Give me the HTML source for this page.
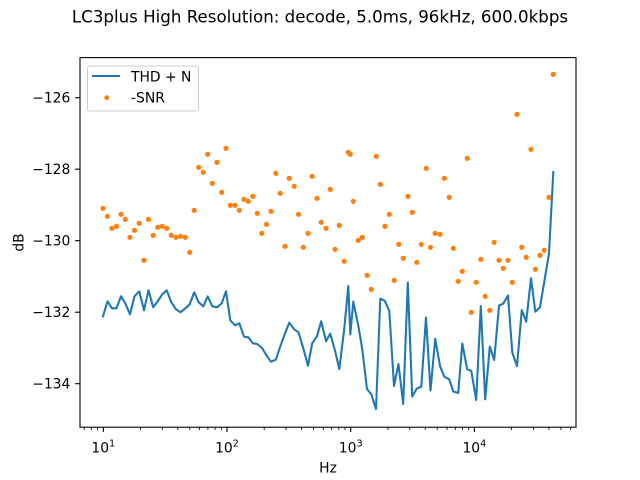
<!DOCTYPE html>
<html><head><meta charset="utf-8"><style>
html,body{margin:0;padding:0;background:#fff;}
svg{display:block;font-family:"DejaVu Sans","Liberation Sans",sans-serif;}
</style></head><body>
<svg width="640" height="480" viewBox="0 0 640 480" xmlns="http://www.w3.org/2000/svg">
<rect width="640" height="480" fill="#fff"/>
<text x="320" y="22.3" font-size="16.67" text-anchor="middle" fill="#000">LC3plus High Resolution: decode, 5.0ms, 96kHz, 600.0kbps</text>
<defs><clipPath id="c"><rect x="80" y="57.6" width="496" height="369.6"/></clipPath></defs>
<g clip-path="url(#c)">
<polyline fill="none" stroke="#1f77b4" stroke-width="2.08" stroke-linejoin="round" stroke-linecap="square" points="103,316.3 107.5,301.3 112,308.3 116.5,308.3 121,296.3 125.3,303.3 130,314.3 134.5,296.3 139.2,291.3 144,310.3 148.5,290.3 153.2,307.3 157.7,301.3 162.3,294.3 166.7,290.3 171.3,302.3 176,309.3 180.5,312.3 185.3,308.3 189.7,304.3 194.2,292.3 198.7,302.3 203.3,306.3 207.7,296.3 212.3,306.3 217,307.3 221.7,303.3 226,291.3 230.3,320.3 235,325.3 239.3,323.3 244,336.7 248.3,337.3 252.8,343.3 257.3,344 261.8,347.7 266.5,355.3 271,361.7 275.8,359.7 280.2,346.7 285,333.3 289.3,322.7 294.2,329.3 298.5,332.3 303.3,348.3 308,365.7 312.2,343.3 317,336.3 321.2,321.3 326,341.3 330.2,333.7 335,350.5 339.3,369 344.2,329.3 348.3,286 350.3,334.3 353.3,301.7 358.3,325.7 362.3,349.3 367,389 371.3,394.3 376,409 380.3,298.7 384.7,300.7 389.3,311 394,386 398.5,364 403.2,404 407.8,282.5 412.2,396.5 416.8,388.5 421.3,386.7 426,317.5 430.5,390.5 435.2,338.8 440,366 444.3,376.7 449.2,379.3 453.3,391.5 458.2,393 462.3,343.5 467.2,369.3 471.3,371 476.2,400 480.8,306 485.2,399.3 489.8,346.5 494.2,360 499,305.5 503.2,303.7 508,295.5 512.3,352.5 517,366.2 521.8,310 526.2,321.7 531,278.3 535.3,311.7 540,307.3 544.3,281.7 549,253.3 553.3,172"/>
<g fill="#ff7f0e">
<circle cx="103" cy="208.3" r="2.6"/><circle cx="107.5" cy="216.3" r="2.6"/><circle cx="112" cy="228.3" r="2.6"/><circle cx="116.5" cy="226.3" r="2.6"/><circle cx="121" cy="214.3" r="2.6"/><circle cx="125.3" cy="219.3" r="2.6"/><circle cx="130" cy="237.3" r="2.6"/><circle cx="134.5" cy="230.3" r="2.6"/><circle cx="139.2" cy="223.3" r="2.6"/><circle cx="144" cy="260.3" r="2.6"/><circle cx="148.5" cy="219.3" r="2.6"/><circle cx="153.2" cy="235.3" r="2.6"/><circle cx="157.7" cy="227.3" r="2.6"/><circle cx="162.3" cy="226.3" r="2.6"/><circle cx="166.7" cy="228.3" r="2.6"/><circle cx="171.3" cy="235.3" r="2.6"/><circle cx="176" cy="237.3" r="2.6"/><circle cx="180.5" cy="236.3" r="2.6"/><circle cx="185.3" cy="237.3" r="2.6"/><circle cx="189.7" cy="252.3" r="2.6"/><circle cx="194.2" cy="210.3" r="2.6"/><circle cx="198.7" cy="167.3" r="2.6"/><circle cx="203.3" cy="172.3" r="2.6"/><circle cx="207.7" cy="154.3" r="2.6"/><circle cx="212.3" cy="183.3" r="2.6"/><circle cx="217" cy="162.3" r="2.6"/><circle cx="221.7" cy="192.3" r="2.6"/><circle cx="226" cy="148.3" r="2.6"/><circle cx="230.3" cy="205.3" r="2.6"/><circle cx="235" cy="205.3" r="2.6"/><circle cx="239.3" cy="210.3" r="2.6"/><circle cx="244" cy="199.3" r="2.6"/><circle cx="248.3" cy="201.3" r="2.6"/><circle cx="252.8" cy="196.3" r="2.6"/><circle cx="257.3" cy="213.3" r="2.6"/><circle cx="261.8" cy="233.3" r="2.6"/><circle cx="266.5" cy="224.3" r="2.6"/><circle cx="271" cy="211.3" r="2.6"/><circle cx="275.8" cy="173.3" r="2.6"/><circle cx="280.2" cy="193.3" r="2.6"/><circle cx="285" cy="246.3" r="2.6"/><circle cx="289.3" cy="178.3" r="2.6"/><circle cx="294.2" cy="186.3" r="2.6"/><circle cx="298.5" cy="214.3" r="2.6"/><circle cx="303.3" cy="247.3" r="2.6"/><circle cx="308" cy="233.3" r="2.6"/><circle cx="312.2" cy="176.3" r="2.6"/><circle cx="317" cy="198.3" r="2.6"/><circle cx="321.2" cy="222.3" r="2.6"/><circle cx="326" cy="228.3" r="2.6"/><circle cx="330.2" cy="189.3" r="2.6"/><circle cx="335" cy="249.3" r="2.6"/><circle cx="339.3" cy="225.3" r="2.6"/><circle cx="344.2" cy="261.3" r="2.6"/><circle cx="348.3" cy="152.3" r="2.6"/><circle cx="350.3" cy="154.3" r="2.6"/><circle cx="353.3" cy="201.3" r="2.6"/><circle cx="358.3" cy="240.3" r="2.6"/><circle cx="362.3" cy="237.3" r="2.6"/><circle cx="367.2" cy="275.3" r="2.6"/><circle cx="371.3" cy="289.3" r="2.6"/><circle cx="376.2" cy="156.3" r="2.6"/><circle cx="380.3" cy="184.3" r="2.6"/><circle cx="385" cy="226.3" r="2.6"/><circle cx="389.3" cy="214.3" r="2.6"/><circle cx="394.2" cy="280.3" r="2.6"/><circle cx="398.8" cy="244.3" r="2.6"/><circle cx="403.3" cy="258.3" r="2.6"/><circle cx="408" cy="196.3" r="2.6"/><circle cx="412.3" cy="212.3" r="2.6"/><circle cx="416.8" cy="262.3" r="2.6"/><circle cx="421.3" cy="244.3" r="2.6"/><circle cx="426.2" cy="168.3" r="2.6"/><circle cx="430.5" cy="247.3" r="2.6"/><circle cx="435.2" cy="233.3" r="2.6"/><circle cx="440" cy="234.3" r="2.6"/><circle cx="444.3" cy="178.3" r="2.6"/><circle cx="449.2" cy="197.3" r="2.6"/><circle cx="453.3" cy="248.3" r="2.6"/><circle cx="458.2" cy="281.3" r="2.6"/><circle cx="462.3" cy="271.3" r="2.6"/><circle cx="467.2" cy="158.3" r="2.6"/><circle cx="471.3" cy="312.3" r="2.6"/><circle cx="476.2" cy="282.3" r="2.6"/><circle cx="480.8" cy="259.3" r="2.6"/><circle cx="485.2" cy="296.3" r="2.6"/><circle cx="489.8" cy="310.3" r="2.6"/><circle cx="494.2" cy="242.3" r="2.6"/><circle cx="499" cy="260.3" r="2.6"/><circle cx="503.2" cy="268.3" r="2.6"/><circle cx="508" cy="260.3" r="2.6"/><circle cx="512.3" cy="282.3" r="2.6"/><circle cx="517" cy="114.3" r="2.6"/><circle cx="521.8" cy="247.3" r="2.6"/><circle cx="526.2" cy="257.3" r="2.6"/><circle cx="531" cy="149.3" r="2.6"/><circle cx="535.3" cy="269.3" r="2.6"/><circle cx="540" cy="255.3" r="2.6"/><circle cx="544.3" cy="250.3" r="2.6"/><circle cx="549" cy="197.3" r="2.6"/><circle cx="553.3" cy="74.3" r="2.6"/>
</g>
</g>
<!-- spines -->
<rect x="80" y="57.6" width="496" height="369.6" fill="none" stroke="#000" stroke-width="1.1"/>
<!-- x major ticks -->
<g stroke="#000" stroke-width="1.1">
<line x1="103.3" y1="427.2" x2="103.3" y2="432.1"/>
<line x1="227" y1="427.2" x2="227" y2="432.1"/>
<line x1="350.7" y1="427.2" x2="350.7" y2="432.1"/>
<line x1="474.4" y1="427.2" x2="474.4" y2="432.1"/>
</g>
<!-- x minor ticks -->
<g stroke="#000" stroke-width="0.83">
<line x1="84.2" y1="427.2" x2="84.2" y2="430"/><line x1="91.3" y1="427.2" x2="91.3" y2="430"/><line x1="97.6" y1="427.2" x2="97.6" y2="430"/>
<line x1="140.5" y1="427.2" x2="140.5" y2="430"/><line x1="162.3" y1="427.2" x2="162.3" y2="430"/><line x1="177.8" y1="427.2" x2="177.8" y2="430"/><line x1="189.8" y1="427.2" x2="189.8" y2="430"/><line x1="199.6" y1="427.2" x2="199.6" y2="430"/><line x1="207.9" y1="427.2" x2="207.9" y2="430"/><line x1="215.1" y1="427.2" x2="215.1" y2="430"/><line x1="221.3" y1="427.2" x2="221.3" y2="430"/>
<line x1="264.2" y1="427.2" x2="264.2" y2="430"/><line x1="286" y1="427.2" x2="286" y2="430"/><line x1="301.5" y1="427.2" x2="301.5" y2="430"/><line x1="313.5" y1="427.2" x2="313.5" y2="430"/><line x1="323.3" y1="427.2" x2="323.3" y2="430"/><line x1="331.6" y1="427.2" x2="331.6" y2="430"/><line x1="338.8" y1="427.2" x2="338.8" y2="430"/><line x1="345" y1="427.2" x2="345" y2="430"/>
<line x1="387.9" y1="427.2" x2="387.9" y2="430"/><line x1="409.7" y1="427.2" x2="409.7" y2="430"/><line x1="425.2" y1="427.2" x2="425.2" y2="430"/><line x1="437.2" y1="427.2" x2="437.2" y2="430"/><line x1="447" y1="427.2" x2="447" y2="430"/><line x1="455.3" y1="427.2" x2="455.3" y2="430"/><line x1="462.5" y1="427.2" x2="462.5" y2="430"/><line x1="468.7" y1="427.2" x2="468.7" y2="430"/>
<line x1="511.6" y1="427.2" x2="511.6" y2="430"/><line x1="533.4" y1="427.2" x2="533.4" y2="430"/><line x1="548.9" y1="427.2" x2="548.9" y2="430"/><line x1="560.9" y1="427.2" x2="560.9" y2="430"/><line x1="570.7" y1="427.2" x2="570.7" y2="430"/>
</g>
<!-- y ticks -->
<g stroke="#000" stroke-width="1.1">
<line x1="75.1" y1="97.7" x2="80" y2="97.7"/>
<line x1="75.1" y1="169.2" x2="80" y2="169.2"/>
<line x1="75.1" y1="240.7" x2="80" y2="240.7"/>
<line x1="75.1" y1="312.2" x2="80" y2="312.2"/>
<line x1="75.1" y1="383.7" x2="80" y2="383.7"/>
</g>
<g font-size="13.89" fill="#000" text-anchor="end">
<text x="70.3" y="102.7">−126</text>
<text x="70.3" y="174.2">−128</text>
<text x="70.3" y="245.7">−130</text>
<text x="70.3" y="317.2">−132</text>
<text x="70.3" y="388.7">−134</text>
</g>
<g font-size="13.89" fill="#000" text-anchor="middle">
<text x="103.3" y="452.3">10<tspan dy="-6" font-size="9.7">1</tspan></text>
<text x="227" y="452.3">10<tspan dy="-6" font-size="9.7">2</tspan></text>
<text x="350.7" y="452.3">10<tspan dy="-6" font-size="9.7">3</tspan></text>
<text x="474.4" y="452.3">10<tspan dy="-6" font-size="9.7">4</tspan></text>
</g>
<text x="328" y="472.3" font-size="13.89" text-anchor="middle" fill="#000">Hz</text>
<text transform="translate(23.3,242.5) rotate(-90)" font-size="13.89" text-anchor="middle" fill="#000">dB</text>
<!-- legend -->
<rect x="87.5" y="66" width="111" height="45" rx="2.5" fill="#fff" fill-opacity="0.8" stroke="#cccccc" stroke-width="1"/>
<line x1="92" y1="76" x2="120" y2="76" stroke="#1f77b4" stroke-width="2.08"/>
<text x="131" y="81.7" font-size="13.89" fill="#000">THD + N</text>
<circle cx="106.7" cy="97.7" r="2.4" fill="#ff7f0e"/>
<text x="131" y="102.3" font-size="13.89" fill="#000">-SNR</text>
</svg>
</body></html>
